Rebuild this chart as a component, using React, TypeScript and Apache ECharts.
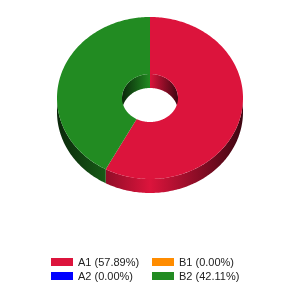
import React, { useEffect, useRef } from 'react';
import * as echarts from 'echarts';

const categories = ['A1', 'A2', 'B1', 'B2'];
const values = [11, 0, 0, 8];
const colors = ['#DC143C', '#0000FF', '#FF8C00', '#228B22'];
const legendCol1 = ['A1', 'A2'];
const legendCol2 = ['B1', 'B2'];

const CX = 150, CY = 98, RX = 93, RY = 81, HRX = 28, HRY = 24, H = 14;

function darken(hex: string, f: number) {
  const n = parseInt(hex.slice(1), 16);
  const r = Math.round(((n >> 16) & 255) * f);
  const g = Math.round(((n >> 8) & 255) * f);
  const b = Math.round((n & 255) * f);
  return `rgb(${r},${g},${b})`;
}

function arc(rx: number, ry: number, a: number, b: number, dy: number) {
  const pts: number[][] = [];
  const steps = Math.max(2, Math.ceil(Math.abs(b - a)));
  for (let i = 0; i <= steps; i++) {
    const t = ((a + ((b - a) * i) / steps) * Math.PI) / 180;
    pts.push([CX + rx * Math.sin(t), CY - ry * Math.cos(t) + dy]);
  }
  return pts;
}

function intersect(a: number, b: number, s: number, e: number) {
  const lo = Math.max(a, s), hi = Math.min(b, e);
  return hi > lo ? [lo, hi] : null;
}

function grad(color: string, x0: number, x1: number) {
  return {
    type: 'linear', x: x0, y: 0, x2: x1, y2: 0, global: true,
    colorStops: [
      { offset: 0, color: darken(color, 0.28) },
      { offset: 0.5, color: color },
      { offset: 1, color: darken(color, 0.28) },
    ],
  };
}

function makeRender(idx: number) {
  return (params: any, api: any) => {
    const v = api.value(0);
    const total = values.reduce((s, x) => s + x, 0);
    const start = values.slice(0, idx).reduce((s, x) => s + x, 0);
    if (!(v > 0) || total <= 0) return { type: 'group', children: [] };
    const a = (start / total) * 360;
    const b = ((start + v) / total) * 360;
    const color = colors[idx];
    const children: any[] = [];
    const ow = intersect(a, b, 90, 270);
    if (ow) {
      children.push({
        type: 'polygon', z2: 1,
        shape: { points: arc(RX, RY, ow[0], ow[1], 0).concat(arc(RX, RY, ow[1], ow[0], H)) },
        style: { fill: grad(color, CX - RX, CX + RX) },
      });
    }
    for (const rng of [[0, 90], [270, 360]]) {
      const iw = intersect(a, b, rng[0], rng[1]);
      if (iw) {
        children.push({
          type: 'polygon', z2: 1,
          shape: { points: arc(HRX, HRY, iw[0], iw[1], 0).concat(arc(HRX, HRY, iw[1], iw[0], H)) },
          style: { fill: grad(color, CX - HRX, CX + HRX) },
        });
      }
    }
    children.push({
      type: 'polygon', z2: 10,
      shape: { points: arc(RX, RY, a, b, 0).concat(arc(HRX, HRY, b, a, 0)) },
      style: { fill: color },
    });
    return { type: 'group', children };
  };
}

export default function App() {
  const ref = useRef<HTMLDivElement>(null);
  useEffect(() => {
    if (!ref.current) return;
    const chart = echarts.init(ref.current, undefined, { renderer: 'svg' });
    const total = values.reduce((s, x) => s + x, 0);
    const fmt = (name: string) => {
      const i = categories.indexOf(name);
      return `${name} (${((values[i] / total) * 100).toFixed(2)}%)`;
    };
    const legendBase = {
      orient: 'vertical', top: 255, padding: 0, itemWidth: 22, itemHeight: 8, itemGap: 0,
      icon: 'rect', selectedMode: false, formatter: fmt,
      textStyle: { fontSize: 11, color: '#222', lineHeight: 14, fontFamily: 'Liberation Sans, Arial, sans-serif', padding: [0, 0, 0, 0] },
    };
    chart.setOption({
      animation: false,
      color: colors,
      legend: [
        { ...legendBase, left: 51, data: legendCol1 },
        { ...legendBase, left: 152, data: legendCol2 },
      ],
      series: categories.map((name, i) => ({
        type: 'custom', name, coordinateSystem: 'none',
        itemStyle: { color: colors[i] },
        data: [[values[i]]],
        renderItem: makeRender(i),
      })),
    });
    return () => chart.dispose();
  }, []);
  return <div ref={ref} style={{ position: 'fixed', left: 0, top: 0, width: 300, height: 300 }} />;
}
